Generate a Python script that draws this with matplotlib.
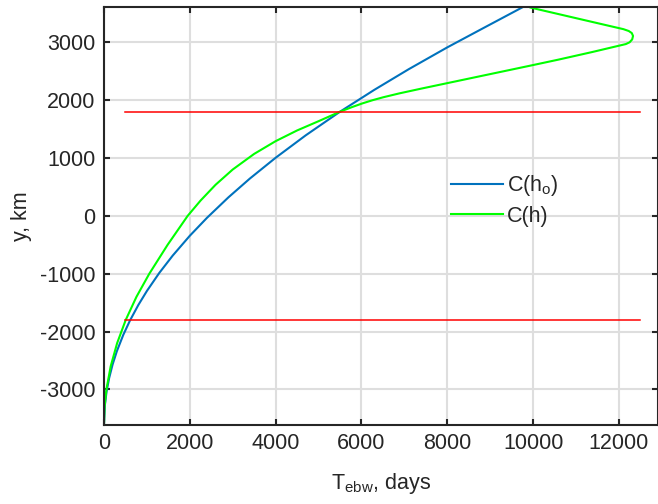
import numpy as np
import matplotlib
matplotlib.use('Agg')
import matplotlib.pyplot as plt

plt.rcParams['font.family'] = ['Liberation Sans', 'DejaVu Sans']
plt.rcParams['mathtext.fontset'] = 'custom'
plt.rcParams['mathtext.rm'] = 'Liberation Sans'
plt.rcParams['axes.unicode_minus'] = False

# C(h_o) curve (x in days, y in km)
blue_x = [0, 20, 60, 120, 200, 300, 450, 606, 800, 1000, 1290, 1600,
          2000, 2400, 2900, 3400, 4000, 4700, 5500, 6300, 7100, 8000,
          8850, 9740]
blue_y = [-3600, -3274, -3036, -2803, -2570, -2339, -2056, -1808, -1541,
          -1298, -985, -688, -344, -34, 320, 645, 1004, 1391, 1800, 2178,
          2534, 2912, 3249, 3600]

# C(h) curve, folds back near the top
green_x = [0, 14, 56, 156, 306, 506, 756, 1056, 1483, 1950, 2250, 2600,
           3000, 3500, 4000, 4500, 5000, 5500, 5780, 6027, 6264, 6509,
           6884, 7399, 7969, 8711, 9319, 9965, 10589, 11369, 12161, 12250,
           12310, 12330, 12300, 12230, 12106, 11872, 11100, 10602, 9941]
green_y = [-3600, -3300, -3000, -2600, -2200, -1800, -1400, -1000, -500,
           0, 264, 537, 801, 1071, 1291, 1476, 1636, 1800, 1880, 1945, 2000,
           2050, 2117, 2200, 2289, 2405, 2500, 2601, 2700, 2830, 2969, 3000,
           3050, 3110, 3160, 3195, 3227, 3267, 3400, 3486, 3600]

# horizontal red limits
red_levels = [1800, -1800]
red_x = [500, 12500]

BLUE = (0, 0.447, 0.741)
DARK = (0.15, 0.15, 0.15)
FS = 15.5

fig = plt.figure(figsize=(6.58, 5.04), dpi=100)
ax = fig.add_axes([104/658, 1 - 424.7/504, (657.5-104)/658, (424.7-7)/504])

ax.plot(blue_x, blue_y, color=BLUE, lw=1.5, label=r'C(h$_\mathregular{o}$)')
ax.plot(green_x, green_y, color=(0, 1, 0), lw=1.5, label='C(h)')
for lev in red_levels:
    ax.plot(red_x, [lev, lev], color=(1, 0, 0), lw=1.1)

ax.set_xlim(0, 12900)
ax.set_ylim(-3610, 3610)
ax.set_xticks(np.arange(0, 12001, 2000))
ax.set_yticks(np.arange(-3000, 3001, 1000))
ax.grid(True, color=(0.87, 0.87, 0.87), lw=1.5)
ax.set_axisbelow(True)
ax.tick_params(direction='in', length=4, width=1.5, colors=DARK,
               labelsize=FS, top=True, right=True, pad=6)
for sp in ax.spines.values():
    sp.set_color(DARK)
    sp.set_linewidth(1.5)

ax.set_xlabel(r'T$_\mathregular{ebw}$, days', fontsize=FS, color=DARK, labelpad=12)
ax.set_ylabel('y, km', fontsize=FS, color=DARK, labelpad=6)

leg = ax.legend(loc='center left', bbox_to_anchor=(451/658, 1 - 200/504),
                bbox_transform=fig.transFigure, frameon=False, fontsize=FS,
                handlelength=2.4, handletextpad=0.2, labelspacing=0.35,
                borderpad=0, borderaxespad=0)
for t in leg.get_texts():
    t.set_color(DARK)

fig.savefig('out.png', dpi=100)
